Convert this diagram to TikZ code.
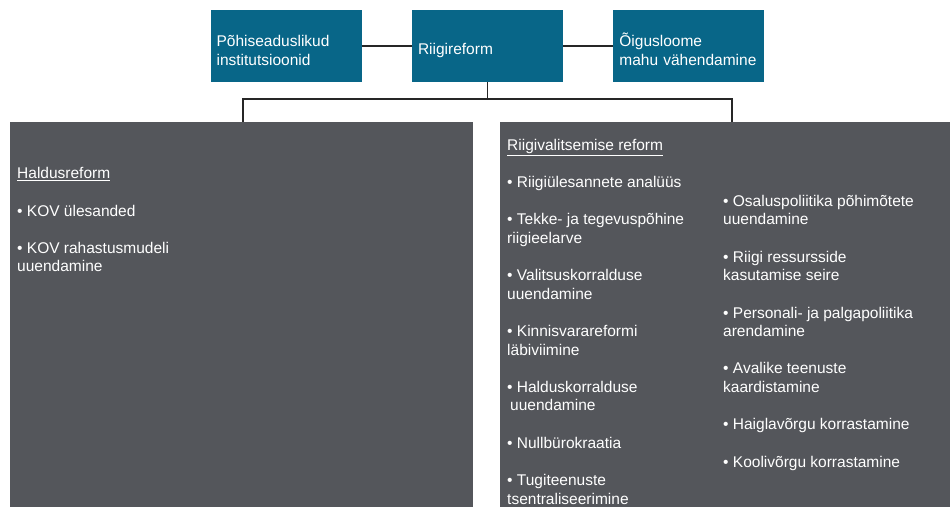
\documentclass[tikz,border=0pt]{standalone}
\usepackage{fontspec}
\setmainfont{Liberation Sans}
\usepackage{tikz}
\usetikzlibrary{positioning}
\definecolor{boxblue}{RGB}{8,102,136}
\definecolor{panelgray}{RGB}{84,86,91}

\begin{document}
\begin{tikzpicture}[x=1pt, y=-1pt, node distance=50pt,
    topbox/.style={rectangle, fill=boxblue, text=white, text width=139pt, align=left, inner xsep=6pt, inner ysep=7pt, minimum height=72pt, font=\fontsize{15.5}{18.5}\selectfont, execute at begin node={\rule{0pt}{20pt}}},
    panel/.style={rectangle, fill=panelgray, anchor=north west, minimum height=385pt},
    items/.style={text=white, align=left, inner sep=0pt, anchor=base west, font=\fontsize{15.5}{18.7}\selectfont},
    line/.style={draw=black!85, line width=1.6pt}]

    \useasboundingbox (0,0) rectangle (950,510);

    \node [topbox] (riik) at (487.5,46) {Riigireform};
    \node [topbox, left=of riik] (pohi) {Põhiseaduslikud\\institutsioonid};
    \node [topbox, right=of riik] (oigus) {Õigusloome\\mahu vähendamine};

    \node [panel, minimum width=463pt] (haldus) at (10,122) {};
    \node [panel, minimum width=450pt] (riigi) at (500,122) {};

    \node [items] (haldustekst) at (17,272) {\underline{Haldusreform}\\[18.5pt]
        • KOV ülesanded\\[18.5pt]
        • KOV rahastusmudeli\\uuendamine};
    \node [items] (riigitekst) at (507,504) {\underline{Riigivalitsemise reform}\\[18.5pt]
        • Riigiülesannete analüüs\\[18.5pt]
        • Tekke- ja tegevuspõhine\\riigieelarve\\[18.5pt]
        • Valitsuskorralduse\\uuendamine\\[18.5pt]
        • Kinnisvarareformi\\läbiviimine\\[18.5pt]
        • Halduskorralduse\\\hspace{3pt}uuendamine\\[18.5pt]
        • Nullbürokraatia\\[18.5pt]
        • Tugiteenuste\\tsentraliseerimine};
    \node [items] (riigitekst2) at (723,467) {• Osaluspoliitika põhimõtete\\uuendamine\\[18.5pt]
        • Riigi ressursside\\kasutamise seire\\[18.5pt]
        • Personali- ja palgapoliitika\\arendamine\\[18.5pt]
        • Avalike teenuste\\kaardistamine\\[18.5pt]
        • Haiglavõrgu korrastamine\\[18.5pt]
        • Koolivõrgu korrastamine};

    \coordinate (jaotus) at (487.5,99);
    \coordinate (haru1) at (243,99);
    \coordinate (haru2) at (732,99);

    \path [line] (pohi) -- (riik);
    \path [line] (riik) -- (oigus);
    \path [line] (riik.south) -- (jaotus);
    \path [line] (haru1 |- haldus.north) -- (haru1) -- (haru2) -- (haru2 |- riigi.north);

\end{tikzpicture}
\end{document}
